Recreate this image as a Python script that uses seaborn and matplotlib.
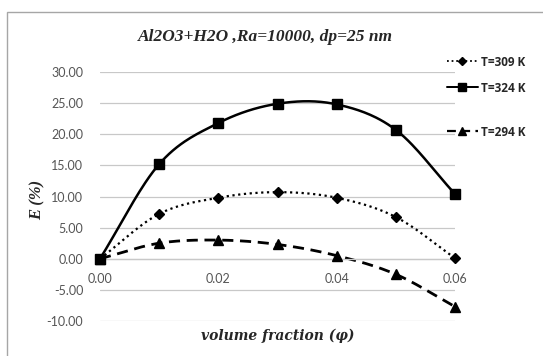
import numpy as np
import pandas as pd
import matplotlib
matplotlib.use("Agg")
import matplotlib.pyplot as plt
import seaborn as sns
from matplotlib.lines import Line2D
from matplotlib.patches import Rectangle

phi = [0.00, 0.01, 0.02, 0.03, 0.04, 0.05, 0.06]
e_309 = [0.0, 7.2, 9.8, 10.7, 9.8, 6.7, 0.1]
e_324 = [0.0, 15.2, 21.8, 24.9, 24.8, 20.7, 10.4]
e_294 = [0.0, 2.5, 3.0, 2.3, 0.5, -2.5, -7.7]
series_labels = ["T=309 K", "T=324 K", "T=294 K"]
y_ticks = [-10, -5, 0, 5, 10, 15, 20, 25, 30]
x_ticks = [0.00, 0.02, 0.04, 0.06]
title = "Al2O3+H2O ,Ra=10000, dp=25 nm"


def smooth(x, y, n=30):
    """Catmull-Rom spline through the points (like Excel's smoothed line)."""
    x = np.asarray(x, float); y = np.asarray(y, float)
    P = np.column_stack([x, y])
    P = np.vstack([2 * P[0] - P[1], P, 2 * P[-1] - P[-2]])
    out = []
    for i in range(1, len(P) - 2):
        p0, p1, p2, p3 = P[i - 1], P[i], P[i + 1], P[i + 2]
        t = np.linspace(0, 1, n, endpoint=(i == len(P) - 3))[:, None]
        c = 0.5 * ((2 * p1) + (-p0 + p2) * t + (2 * p0 - 5 * p1 + 4 * p2 - p3) * t ** 2
                   + (-p0 + 3 * p1 - 3 * p2 + p3) * t ** 3)
        out.append(c)
    c = np.vstack(out)
    return c[:, 0], c[:, 1]


sns.set_style("white")
fig = plt.figure(figsize=(5.43, 3.56), dpi=100)
ax = fig.add_axes([100 / 543, 1 - 321 / 356, 355 / 543, 249 / 356])

styles = [
    dict(y=e_309, ls=(0, (1, 1.6)), lw=1.6, marker="D", ms=5.5),
    dict(y=e_324, ls="-", lw=1.8, marker="s", ms=7.5),
    dict(y=e_294, ls=(0, (4, 2.4)), lw=2.0, marker="^", ms=7),
]

handles = []
for lab, st in zip(series_labels, styles):
    sx, sy = smooth(phi, st["y"])
    df = pd.DataFrame({"x": sx, "y": sy})
    sns.lineplot(data=df, x="x", y="y", ax=ax, color="black", lw=st["lw"],
                 linestyle=st["ls"], sort=False, estimator=None, clip_on=False)
    ax.plot(phi, st["y"], linestyle="none", marker=st["marker"], ms=st["ms"],
            color="black", clip_on=False, zorder=5)
    handles.append(Line2D([], [], color="black", lw=st["lw"] * 0.8, linestyle=st["ls"],
                          marker=st["marker"], ms=st["ms"] * 0.75))

ax.set_xlim(0, 0.06)
ax.set_ylim(-10, 30)
ax.set_yticks(y_ticks)
ax.set_yticklabels([f"{v:.2f}" for v in y_ticks])
ax.set_xticks(x_ticks)
ax.set_xticklabels([f"{v:.2f}" for v in x_ticks])
ax.grid(axis="y", color="#c8c8c8", lw=0.9)
ax.grid(axis="x", visible=False)
for s in ["top", "right", "left"]:
    ax.spines[s].set_visible(False)
ax.spines["bottom"].set_position(("data", 0))
ax.spines["bottom"].set_color("#c8c8c8")
ax.spines["bottom"].set_linewidth(0.9)
ax.tick_params(axis="both", length=0, labelsize=9, labelcolor="#555555")
ax.tick_params(axis="y", pad=12)
ax.tick_params(axis="x", pad=10)
for t in ax.get_xticklabels() + ax.get_yticklabels():
    t.set_fontfamily("Lato")
ax.set_xlabel("")
ax.set_ylabel("")

fig.text(265 / 543, 1 - 37 / 356, title, ha="center", va="center",
         fontfamily="Liberation Serif", fontweight="bold", fontstyle="italic", fontsize=12.5)
fig.text(38 / 543, 1 - 200 / 356, "E (%)", ha="center", va="center", rotation=90,
         fontfamily="Liberation Serif", fontweight="bold", fontstyle="italic", fontsize=12)
fig.text(278 / 543, 1 - 336 / 356, "volume fraction (φ)", ha="center", va="center",
         fontfamily="DejaVu Serif", fontweight="bold", fontstyle="italic", fontsize=10)

for h, lab, yy in zip(handles, series_labels, [62, 88, 132]):
    lg = fig.legend([h], [lab], loc="center left", bbox_to_anchor=(441 / 543, 1 - yy / 356),
                    frameon=False, handlelength=2.6, handletextpad=0.3, borderpad=0,
                    prop=dict(family="Open Sans", size=8.5, weight="bold"))

fig.patches.append(Rectangle((7 / 543, -0.05), 1.1, 1.05 - 12 / 356, transform=fig.transFigure,
                             fill=False, edgecolor="#a6a6a6", lw=1.0))

fig.savefig("out.png", dpi=100)
